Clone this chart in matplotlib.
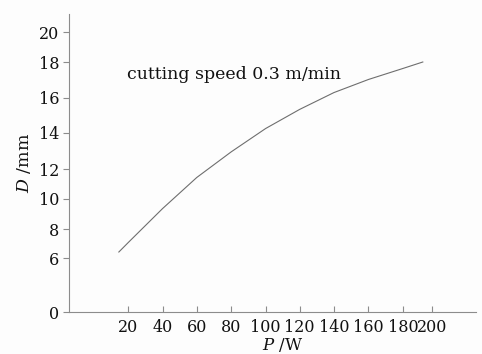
"""
D vs P curve, cutting speed 0.3 m/min
"""

import numpy as np
import matplotlib
matplotlib.use("Agg")
import matplotlib.pyplot as plt

plt.rcParams['font.family'] = ['DejaVu Serif']
plt.rcParams['mathtext.fontset'] = 'dejavuserif'

# data
power = [14.5, 20, 40, 60, 80, 100, 120, 140, 160, 180, 193.8]
diameter = [6.43, 7.08, 9.36, 11.45, 12.95, 14.24, 15.33, 16.29, 17.03, 17.65, 18.02]

x_ticks = [20, 40, 60, 80, 100, 120, 140, 160, 180, 200]
y_ticks = [0, 6, 8, 10, 12, 14, 16, 18, 20]
note = "cutting speed 0.3 m/min"

# the original axes are not evenly spaced -> piecewise linear scales
x_anchor_val = [-20, 20, 40, 60, 80, 100, 120, 140, 160, 180, 200, 260]
x_anchor_pos = [58.9, 127.7, 162.0, 196.3, 230.7, 265.3, 299.3, 333.7, 368.3, 402.7, 431.7, 534.9]
y_anchor_val = [-2, 0, 6, 8, 10, 12, 14, 16, 18, 20, 22]
y_anchor_pos = [-12.0, 0.0, 54.0, 83.3, 113.3, 143.0, 179.6, 214.6, 250.0, 280.0, 310.0]


def fwd_x(v):
    return np.interp(v, x_anchor_val, x_anchor_pos)


def inv_x(p):
    return np.interp(p, x_anchor_pos, x_anchor_val)


def fwd_y(v):
    return np.interp(v, y_anchor_val, y_anchor_pos)


def inv_y(p):
    return np.interp(p, y_anchor_pos, y_anchor_val)


fig = plt.figure(figsize=(4.82, 3.54), dpi=100, facecolor='#fdfdfd')
ax = fig.add_axes([69 / 482, 41.7 / 354, 407 / 482, 298.3 / 354])
ax.set_facecolor('#fdfdfd')

ax.set_xscale('function', functions=(fwd_x, inv_x))
ax.set_yscale('function', functions=(fwd_y, inv_y))

ax.plot(power, diameter, color='#6e6e6e', linewidth=0.8)

ax.set_xlim(inv_x(68.3), inv_x(476))
ax.set_ylim(0, inv_y(298.3))

ax.set_xticks(x_ticks)
ax.set_xticklabels([str(t) for t in x_ticks])
ax.set_yticks(y_ticks)
ax.set_yticklabels([str(t) for t in y_ticks])
ax.minorticks_off()

for side in ['top', 'right']:
    ax.spines[side].set_visible(False)
for side in ['left', 'bottom']:
    ax.spines[side].set_color('#8c8c8c')
    ax.spines[side].set_linewidth(0.8)

ax.tick_params(axis='x', direction='in', length=4, width=0.8, color='#8c8c8c',
               labelsize=11.5, pad=5, labelcolor='#111111')
ax.tick_params(axis='y', direction='out', length=4, width=0.8, color='#8c8c8c',
               labelsize=11.5, pad=3, labelcolor='#111111')

ax.set_xlabel(r'$P$ /W', fontsize=12, color='#111111')
ax.xaxis.set_label_coords(0.526, -0.081)
ax.xaxis.label.set_va('top')
ax.set_ylabel(r'$D$ /mm', fontsize=12.5, color='#111111')
ax.yaxis.set_label_coords(-0.088, 0.5)

ax.text(19.5, 17.3, note, fontsize=12.5, color='#111111', va='center', ha='left')

fig.savefig('out.png', dpi=100, facecolor=fig.get_facecolor())
